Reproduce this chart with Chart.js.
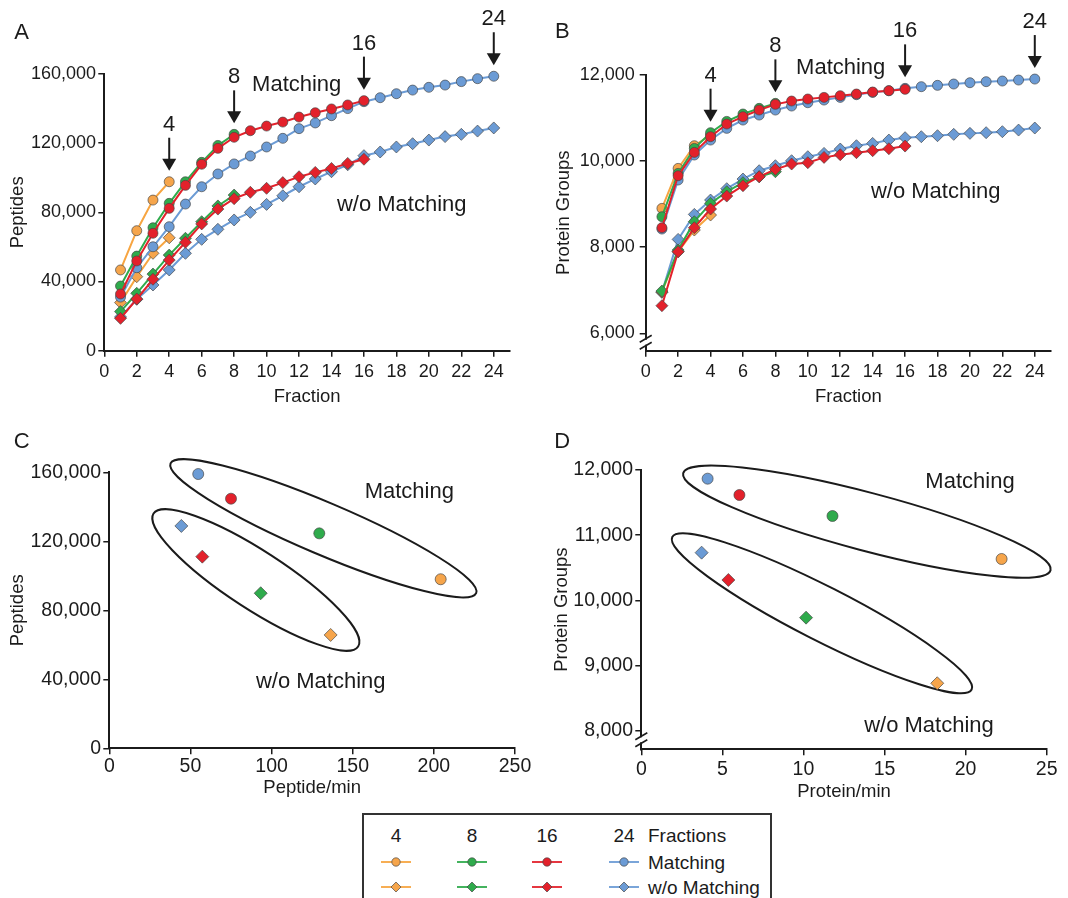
<!DOCTYPE html>
<html>
<head>
<meta charset="utf-8">
<script src="https://cdn.jsdelivr.net/npm/chart.js@4/dist/chart.umd.min.js"></script>
<style>
html,body{margin:0;padding:0;background:#fff;}
body{width:1068px;height:898px;position:relative;overflow:hidden;font-family:"Liberation Sans",Arial,Helvetica,sans-serif;color:#1b1b1b;}
canvas{position:absolute;}
#legend{position:absolute;left:362px;top:813px;width:410px;height:110px;border:2px solid #333;box-sizing:border-box;background:#fff;}
#legend span{position:absolute;font-size:19px;line-height:1;white-space:nowrap;}
#legend svg{position:absolute;}
</style>
</head>
<body>
<canvas id="cA" width="534" height="420" style="left:0;top:0"></canvas>
<canvas id="cB" width="534" height="420" style="left:534px;top:0"></canvas>
<canvas id="cC" width="534" height="400" style="left:0;top:420px"></canvas>
<canvas id="cD" width="534" height="400" style="left:534px;top:420px"></canvas>
<div id="legend"></div>
<script>
// ---------------- DATA ----------------
const fractions = [1,2,3,4,5,6,7,8,9,10,11,12,13,14,15,16,17,18,19,20,21,22,23,24];
const seriesNames = ['4','8','16','24'];
const arrowFractions = [4,8,16,24];
const fractionTicks = [0,2,4,6,8,10,12,14,16,18,20,22,24];
const peptideTicks = [0,40000,80000,120000,160000];
const proteinTicksB = [6000,8000,10000,12000];
const proteinTicksD = [8000,9000,10000,11000,12000];
const peptideRateTicks = [0,50,100,150,200,250];
const proteinRateTicks = [0,5,10,15,20,25];

// Panel A: peptides vs fraction
const pepMatch4  = [46700,69400,87100,97700];
const pepMatch8  = [37400,54700,71100,85200,97700,108900,118700,125100];
const pepMatch16 = [32800,51900,67900,82300,95600,107800,117000,123400,127200,129900,132200,135100,137600,139800,142100,144600];
const pepMatch24 = [31000,48000,60100,71700,84800,94800,102200,108000,112600,117800,122800,128400,131700,135900,140000,144000,146300,148600,150700,152300,153600,155600,157300,158700];
const pepNoMatch4  = [27800,42800,56300,65300];
const pepNoMatch8  = [22600,33200,44300,55300,65000,74600,83700,90000];
const pepNoMatch16 = [18700,29900,41300,52400,62700,73300,81900,87900,91600,93900,97200,100600,103100,105400,108300,110700];
const pepNoMatch24 = [19500,29700,38000,46700,56300,64400,70200,75600,80000,84600,89600,94800,99300,103500,107500,112800,114900,117800,119700,121800,123800,125100,127000,128800];

// Panel B: protein groups vs fraction
const protMatch4  = [8899,9827,10353,10600];
const protMatch8  = [8706,9711,10291,10655,10917,11088,11219,11335];
const protMatch16 = [8451,9657,10198,10562,10856,11026,11180,11312,11389,11436,11474,11513,11552,11598,11629,11660];
const protMatch24 = [8420,9557,10137,10484,10755,10948,11064,11180,11273,11350,11412,11474,11536,11590,11629,11683,11722,11753,11784,11814,11838,11853,11876,11899];
const protNoMatch4  = [6960,7894,8397,8745];
const protNoMatch8  = [6982,7933,8590,9015,9286,9495,9634,9750];
const protNoMatch16 = [6642,7894,8451,8884,9185,9425,9634,9804,9928,9959,10082,10144,10191,10237,10283,10345];
const protNoMatch24 = [6950,8180,8760,9093,9356,9580,9773,9889,10005,10098,10175,10276,10353,10407,10484,10539,10562,10585,10616,10639,10655,10678,10716,10763];

// Panel C: peptides vs peptide/min (4, 8, 16, 24 fractions)
const pepRateMatch   = [204.2,129.4,75.0,54.8];
const pepTotalMatch  = [98000,124600,144700,159000];
const pepRateNoMatch = [136.4,93.3,57.3,44.4];
const pepTotalNoMatch= [65700,89900,111100,128900];

// Panel D: protein groups vs protein/min
const protRateMatch   = [22.22,11.79,6.05,4.09];
const protTotalMatch  = [10636,11295,11617,11867];
const protRateNoMatch = [18.25,10.16,5.37,3.72];
const protTotalNoMatch= [8731,9737,10314,10733];

// ---------------- STYLE ----------------
const INK = '#1b1b1b';
const FAM = '"Liberation Sans", Arial, Helvetica, sans-serif';
const fillColors = ['#F6A54B','#2FAB4C','#E3212B','#6B9BD5'];
const lineColors = ['#F7A541','#2FAB4C','#E3212B','#6B9BD5'];
const EDGE = 'rgba(70,70,70,0.85)';

const pepMatchAll = [pepMatch4,pepMatch8,pepMatch16,pepMatch24];
const pepNoMatchAll = [pepNoMatch4,pepNoMatch8,pepNoMatch16,pepNoMatch24];
const protMatchAll = [protMatch4,protMatch8,protMatch16,protMatch24];
const protNoMatchAll = [protNoMatch4,protNoMatch8,protNoMatch16,protNoMatch24];

function curveSets(matchArrs, noMatchArrs, rc, rd) {
  const order = [2,1,0,3]; // first dataset is drawn on top
  const out = [];
  const add = (arr, k, style, r) => out.push({
    data: arr.map((v,i) => ({x: fractions[i], y: v})),
    showLine: true, borderColor: lineColors[k], borderWidth: 2, backgroundColor: fillColors[k],
    pointStyle: style, pointRadius: r, pointHoverRadius: r, pointBackgroundColor: fillColors[k],
    pointBorderColor: EDGE, pointBorderWidth: 0.8, tension: 0, fill: false, clip: false
  });
  order.forEach(k => add(matchArrs[k], k, 'circle', rc));
  order.forEach(k => add(noMatchArrs[k], k, 'rectRot', rd));
  return out;
}
function pointSets(rateM, totM, rateN, totN, rc, rd) {
  return [
    {data: rateM.map((v,i)=>({x:v,y:totM[i]})), showLine:false, pointStyle:'circle', pointRadius:rc,
     pointBackgroundColor: fillColors, pointBorderColor: EDGE, pointBorderWidth:0.8, clip:false},
    {data: rateN.map((v,i)=>({x:v,y:totN[i]})), showLine:false, pointStyle:'rectRot', pointRadius:rd,
     pointBackgroundColor: fillColors, pointBorderColor: EDGE, pointBorderWidth:0.8, clip:false}
  ];
}

function xScale(min, max, ticks, title, tickFont, tickPad, height) {
  return {
    type:'linear', min, max,
    afterBuildTicks: s => { s.ticks = ticks.map(v => ({value:v})); },
    afterFit: s => { s.height = height; },
    ticks: {color:INK, font:{family:FAM,size:tickFont}, padding:tickPad, autoSkip:false, maxRotation:0,
            callback: v => Number(v).toLocaleString('en-US')},
    grid: {drawOnChartArea:false, drawTicks:true, tickLength:6, color:INK, lineWidth:1.5},
    border: {display:true, color:INK, width:2},
    title: {display:true, text:title, color:INK, font:{family:FAM,size:18.5}, padding:{top:0,bottom:0}}
  };
}
function yScale(min, max, ticks, title, tickFont, tickPad, width, titlePad) {
  return {
    type:'linear', min, max,
    afterBuildTicks: s => { s.ticks = ticks.map(v => ({value:v})); },
    afterFit: s => { s.width = width; },
    ticks: {color:INK, font:{family:FAM,size:tickFont}, padding:tickPad, autoSkip:false,
            callback: v => Number(v).toLocaleString('en-US')},
    grid: {drawOnChartArea:false, drawTicks:true, tickLength:6, color:INK, lineWidth:1.5},
    border: {display:true, color:INK, width:2},
    title: {display:true, text:title, color:INK, font:{family:FAM,size:18.5}, padding:{top:titlePad,bottom:0}}
  };
}

const decor = {
  id: 'decor',
  beforeDatasetsDraw(chart, args, o) {
    const ctx = chart.ctx, sx = chart.scales.x, sy = chart.scales.y;
    (o.ellipses || []).forEach(e => {
      ctx.save();
      ctx.beginPath();
      ctx.ellipse(sx.getPixelForValue(e.cx), sy.getPixelForValue(e.cy), e.a, e.b, e.angle*Math.PI/180, 0, Math.PI*2);
      ctx.strokeStyle = INK; ctx.lineWidth = 2; ctx.stroke();
      ctx.restore();
    });
  },
  afterDraw(chart, args, o) {
    const ctx = chart.ctx, sx = chart.scales.x, sy = chart.scales.y;
    const {left, bottom} = chart.chartArea;
    ctx.save();
    if (o.axisBreak) {
      ctx.fillStyle = '#fff';
      ctx.fillRect(left-2.5, bottom-o.axisBreak[0]+1, 5, o.axisBreak[0]-o.axisBreak[1]-2);
      ctx.strokeStyle = INK; ctx.lineWidth = 1.6;
      o.axisBreak.forEach(d => {
        ctx.beginPath(); ctx.moveTo(left-6, bottom-d+3.5); ctx.lineTo(left+6, bottom-d-3.5); ctx.stroke();
      });
    }
    ctx.fillStyle = INK; ctx.textAlign = 'center'; ctx.textBaseline = 'middle';
    ctx.font = '22px ' + FAM;
    if (o.letter) ctx.fillText(o.letter[0], o.letter[1], o.letter[2]);
    (o.texts || []).forEach(t => ctx.fillText(t[0], t[1], t[2]));
    if (o.arrows) {
      o.arrows.at.forEach(n => {
        let best = -Infinity;
        o.arrows.series.forEach(arr => { if (arr.length >= n) best = Math.max(best, arr[n-1]); });
        const px = sx.getPixelForValue(n), py = sy.getPixelForValue(best);
        const tip = py - 11, top = tip - 33;
        ctx.strokeStyle = INK; ctx.lineWidth = 2;
        ctx.beginPath(); ctx.moveTo(px, top); ctx.lineTo(px, tip-10); ctx.stroke();
        ctx.beginPath(); ctx.moveTo(px-7, tip-12); ctx.lineTo(px+7, tip-12); ctx.lineTo(px, tip); ctx.closePath(); ctx.fill();
        ctx.fillText(String(n), px, top-13);
      });
    }
    ctx.restore();
  }
};

function make(id, datasets, scales, padding, decorOpts) {
  return new Chart(document.getElementById(id), {
    type: 'scatter',
    data: {datasets},
    options: {
      responsive:false, animation:false, devicePixelRatio:1,
      layout:{padding},
      scales,
      plugins:{legend:{display:false}, tooltip:{enabled:false}, decor: decorOpts}
    },
    plugins:[decor]
  });
}

make('cA', curveSets(pepMatchAll, pepNoMatchAll, 5, 6),
  {x: xScale(0,25,fractionTicks,'Fraction',18,4.2,57.1),
   y: yScale(0,160000,peptideTicks,'Peptides',18,2.3,104.3,7.2)},
  {left:0, top:74, right:24, bottom:12.2},
  {letter:['A',21.7,33.3], texts:[['Matching',296.7,85],['w/o Matching',401.7,205]],
   arrows:{at:arrowFractions, series:pepMatchAll}});

make('cB', curveSets(protMatchAll, protNoMatchAll, 5, 6),
  {x: xScale(0,25,fractionTicks,'Fraction',18,4.2,57.1),
   y: yScale(5598,12000,proteinTicksB,'Protein Groups',18,5,111.7,18.9)},
  {left:0, top:74.7, right:17, bottom:12.2},
  {letter:['B',28.3,31.7], texts:[['Matching',306.7,68.3],['w/o Matching',401.7,191.7]],
   arrows:{at:arrowFractions, series:protMatchAll}, axisBreak:[12,5]});

make('cC', pointSets(pepRateMatch, pepTotalMatch, pepRateNoMatch, pepTotalNoMatch, 5.5, 6.5),
  {x: xScale(0,250,peptideRateTicks,'Peptide/min',19.5,0.7,51.1),
   y: yScale(0,160000,peptideTicks,'Peptides',19.5,2.3,109.3,7.2)},
  {left:0, top:52.3, right:19, bottom:20.6},
  {letter:['C',21.7,21.7], texts:[['Matching',409.3,71.7],['w/o Matching',320.7,261.7]],
   ellipses:[{cx:131.9,cy:127540,a:166,b:26,angle:23},{cx:90.3,cy:97570,a:122,b:29,angle:33}]});

make('cD', pointSets(protRateMatch, protTotalMatch, protRateNoMatch, protTotalNoMatch, 5.5, 6.5),
  {x: xScale(0,25,proteinRateTicks,'Protein/min',19.5,3,53.5),
   y: yScale(7719,12000,proteinTicksD,'Protein Groups',19.5,2.3,107.3,17.2)},
  {left:0, top:50, right:21.3, bottom:17.2},
  {letter:['D',28.3,21.7], texts:[['Matching',436,61.7],['w/o Matching',395,306]],
   ellipses:[{cx:13.91,cy:11208,a:190,b:29,angle:14.8},{cx:11.14,cy:9804,a:168,b:27,angle:27}],
   axisBreak:[13,6]});

// ---------------- LEGEND ----------------
(function(){
  const L = document.getElementById('legend');
  const colX = [32, 108, 183, 260];
  const rowY = [20, 47, 72];
  const txt = (s, x, y, center) => {
    const e = document.createElement('span'); e.textContent = s;
    e.style.left = x + 'px'; e.style.top = y + 'px';
    e.style.transform = center ? 'translate(-50%,-50%)' : 'translate(0,-50%)';
    L.appendChild(e);
  };
  const NS = 'http://www.w3.org/2000/svg';
  const sample = (k, x, y, shape) => {
    const s = document.createElementNS(NS, 'svg');
    s.setAttribute('width', 34); s.setAttribute('height', 14);
    s.style.left = (x-17) + 'px'; s.style.top = (y-7) + 'px';
    const ln = document.createElementNS(NS, 'line');
    ln.setAttribute('x1', 2); ln.setAttribute('x2', 32); ln.setAttribute('y1', 7); ln.setAttribute('y2', 7);
    ln.setAttribute('stroke', lineColors[k]); ln.setAttribute('stroke-width', 1.8);
    s.appendChild(ln);
    let m;
    if (shape === 'circle') {
      m = document.createElementNS(NS, 'circle');
      m.setAttribute('cx', 17); m.setAttribute('cy', 7); m.setAttribute('r', 4.2);
    } else {
      m = document.createElementNS(NS, 'polygon');
      m.setAttribute('points', '17,2 22,7 17,12 12,7');
    }
    m.setAttribute('fill', fillColors[k]); m.setAttribute('stroke', EDGE); m.setAttribute('stroke-width', 0.8);
    s.appendChild(m);
    L.appendChild(s);
  };
  seriesNames.forEach((n, k) => {
    txt(n, colX[k], rowY[0], true);
    sample(k, colX[k], rowY[1], 'circle');
    sample(k, colX[k], rowY[2], 'diamond');
  });
  txt('Fractions', 284, rowY[0], false);
  txt('Matching', 284, rowY[1], false);
  txt('w/o Matching', 284, rowY[2], false);
})();
</script>
</body>
</html>
